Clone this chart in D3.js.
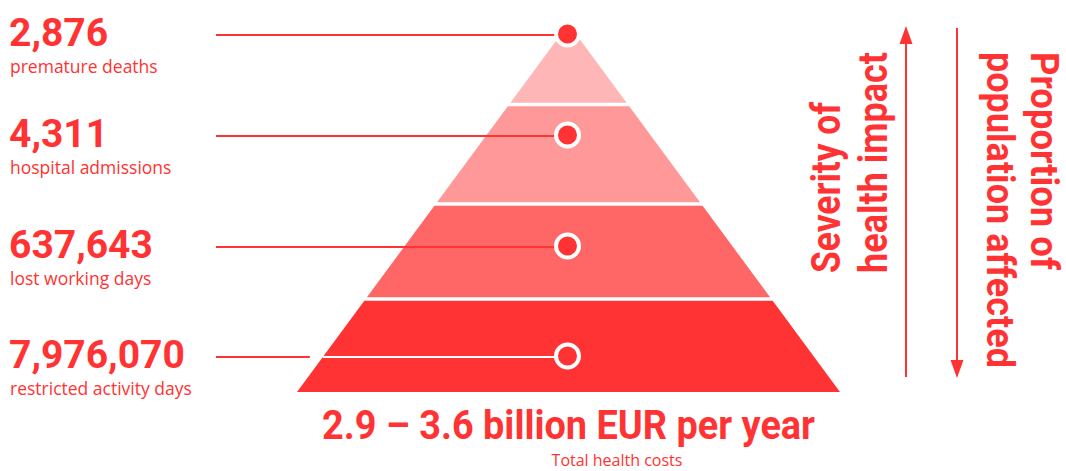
<!DOCTYPE html>
<html>
<head>
<meta charset="utf-8">
<script src="https://cdn.jsdelivr.net/npm/d3@7"></script>
<style>
  html, body { margin: 0; padding: 0; background: #fff; }
  svg { display: block; }
</style>
</head>
<body>
<svg id="chart" width="1066" height="471"></svg>
<script>
// chart data
const values = [2876, 4311, 637643, 7976070];
const categories = ["premature deaths", "hospital admissions", "lost working days", "restricted activity days"];
const totalCost = "2.9 \u2013 3.6 billion EUR per year";
const totalLabel = "Total health costs";
const severityLabel = ["Severity of", "health impact"];
const proportionLabel = ["Proportion of", "population affected"];

const red = "#ff3333";
const bandColor = d3.scaleOrdinal().domain(d3.range(4)).range(["#ffb6b6", "#ff9898", "#ff6666", "#ff3333"]);

const svg = d3.select("#chart");

// pyramid geometry: level -> y, y -> half width
const cx = 568.5;
const levelY = d3.scaleLinear().domain([0, 1, 2, 3, 4]).range([24, 104.5, 204, 299, 392]);
const halfW = d3.scaleLinear().domain([24, 392]).range([0, 271.5]);
const rowY = d3.scaleLinear().domain([0, 1, 2, 3]).range([35, 136, 247, 357]);
const gap = 3.5;

const fmt = d3.format(",");

// bands
svg.append("g").selectAll("path")
  .data(values)
  .enter().append("path")
    .attr("d", (d, i) => {
      const y0 = i === 0 ? levelY(0) : levelY(i) + gap / 2;
      const y1 = levelY(i + 1) - (i === 3 ? 0 : gap / 2);
      return "M" + (cx - halfW(y0)) + "," + y0 +
        "L" + (cx + halfW(y0)) + "," + y0 +
        "L" + (cx + halfW(y1)) + "," + y1 +
        "L" + (cx - halfW(y1)) + "," + y1 + "Z";
    })
    .style("fill", (d, i) => bandColor(i));

// leader lines (white where the line crosses the darkest band)
const lineStart = 216;
const leaders = svg.append("g");
values.forEach((v, i) => {
  const y = rowY(i);
  if (i === 3) {
    const edge = cx - halfW(y);
    leaders.append("line")
      .attr("x1", lineStart).attr("x2", edge - 13)
      .attr("y1", y).attr("y2", y)
      .style("stroke", red).style("stroke-width", 2);
    leaders.append("line")
      .attr("x1", edge).attr("x2", cx)
      .attr("y1", y).attr("y2", y)
      .style("stroke", "#fff").style("stroke-width", 2);
  } else {
    leaders.append("line")
      .attr("x1", lineStart).attr("x2", cx)
      .attr("y1", y).attr("y2", y)
      .style("stroke", red).style("stroke-width", 2);
  }
});

// dots
svg.append("g").selectAll("circle")
  .data(values)
  .enter().append("circle")
    .attr("cx", cx - 1)
    .attr("cy", (d, i) => rowY(i) - 1)
    .attr("r", 11.5)
    .style("fill", red)
    .style("stroke", "#fff")
    .style("stroke-width", 4);

// left labels
const labels = svg.append("g").selectAll("g")
  .data(values)
  .enter().append("g");

labels.append("text")
  .attr("x", 9)
  .attr("y", (d, i) => rowY(i) + 11)
  .style("font-family", "Roboto, sans-serif")
  .style("font-weight", 700)
  .style("font-size", "39px")
  .style("fill", red)
  .text(d => fmt(d));

labels.append("text")
  .attr("x", 10)
  .attr("y", (d, i) => rowY(i) + 38)
  .style("font-family", "'Open Sans', sans-serif")
  .style("font-size", "17.5px")
  .style("fill", red)
  .text((d, i) => categories[i]);

// bottom totals
svg.append("text")
  .attr("x", cx)
  .attr("y", 439)
  .attr("text-anchor", "middle")
  .attr("textLength", 493)
  .attr("lengthAdjust", "spacingAndGlyphs")
  .style("font-family", "Roboto, sans-serif")
  .style("font-weight", 700)
  .style("font-size", "41px")
  .style("fill", red)
  .text(totalCost);

svg.append("text")
  .attr("x", 617)
  .attr("y", 466)
  .attr("text-anchor", "middle")
  .style("font-family", "'Open Sans', sans-serif")
  .style("font-size", "16px")
  .style("fill", red)
  .text(totalLabel);

// arrows
function arrow(x, yFrom, yTo) {
  const dir = yTo < yFrom ? -1 : 1;
  const base = yTo - dir * 18;
  svg.append("line")
    .attr("x1", x).attr("x2", x)
    .attr("y1", yFrom).attr("y2", base)
    .style("stroke", red).style("stroke-width", 2);
  svg.append("path")
    .attr("d", "M" + x + "," + yTo + "L" + (x - 6.5) + "," + base + "L" + (x + 6.5) + "," + base + "Z")
    .style("fill", red);
}
arrow(906, 377, 26);
arrow(957, 28, 378);

// vertical labels
const sevLen = [171, 221];
const sevX = [840, 887];
severityLabel.forEach((t, i) => {
  svg.append("text")
    .attr("transform", "translate(" + sevX[i] + ",273) rotate(-90)")
    .attr("textLength", sevLen[i])
    .attr("lengthAdjust", "spacingAndGlyphs")
    .style("font-family", "Roboto, sans-serif")
    .style("font-weight", 700)
    .style("font-size", "40px")
    .style("fill", red)
    .text(t);
});

const propLen = [218, 316];
const propX = [1031, 987];
proportionLabel.forEach((t, i) => {
  svg.append("text")
    .attr("transform", "translate(" + propX[i] + ",52) rotate(90)")
    .attr("textLength", propLen[i])
    .attr("lengthAdjust", "spacingAndGlyphs")
    .style("font-family", "Roboto, sans-serif")
    .style("font-weight", 700)
    .style("font-size", "38px")
    .style("fill", red)
    .text(t);
});
</script>
</body>
</html>
